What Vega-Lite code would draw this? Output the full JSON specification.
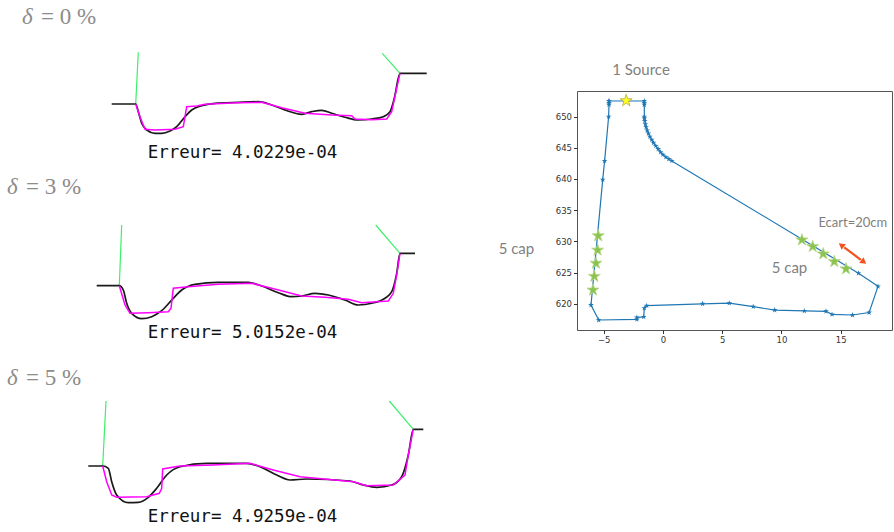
{
  "$schema": "https://vega.github.io/schema/vega-lite/v6.json",
  "padding": 0,
  "background": "white",
  "config": {
    "view": {"stroke": null},
    "font": "DejaVu Sans",
    "axis": {"grid": false, "domain": false, "tickSize": 3.5, "tickColor": "#333", "labelFontSize": 8.5, "labelColor": "#333", "labelFont": "DejaVu Sans", "labelPadding": 2}
  },
  "datasets": {
    "p0": [
      {"c": "mesure", "x": 111.7, "z": 73}, {"c": "mesure", "x": 135.7, "z": 73}, {"c": "mesure", "x": 138.3, "z": 65.3}, {"c": "mesure", "x": 141.7, "z": 53.7}, {"c": "mesure", "x": 146.7, "z": 47}, {"c": "mesure", "x": 155, "z": 43.7}, {"c": "mesure", "x": 161.7, "z": 43.7}, {"c": "mesure", "x": 170, "z": 46}, {"c": "mesure", "x": 176.7, "z": 50.3}, {"c": "mesure", "x": 185, "z": 60.3}, {"c": "mesure", "x": 191.7, "z": 67}, {"c": "mesure", "x": 201.7, "z": 71.3}, {"c": "mesure", "x": 215, "z": 73.7}, {"c": "mesure", "x": 238.3, "z": 74.7}, {"c": "mesure", "x": 258.3, "z": 75.3}, {"c": "mesure", "x": 271.7, "z": 72}, {"c": "mesure", "x": 285, "z": 67}, {"c": "mesure", "x": 301.7, "z": 62.7}, {"c": "mesure", "x": 311.7, "z": 65.3}, {"c": "mesure", "x": 321.7, "z": 66.7}, {"c": "mesure", "x": 331.7, "z": 63.7}, {"c": "mesure", "x": 345, "z": 59.7}, {"c": "mesure", "x": 358.3, "z": 57}, {"c": "mesure", "x": 371.7, "z": 58}, {"c": "mesure", "x": 383.3, "z": 60.3}, {"c": "mesure", "x": 390, "z": 65.3}, {"c": "mesure", "x": 394.3, "z": 78.7}, {"c": "mesure", "x": 400, "z": 103.7}, {"c": "mesure", "x": 426.7, "z": 103.7},
      {"c": "calcul", "x": 135.7, "z": 73}, {"c": "calcul", "x": 140, "z": 60.3}, {"c": "calcul", "x": 145, "z": 47.7}, {"c": "calcul", "x": 155, "z": 47}, {"c": "calcul", "x": 175, "z": 47.7}, {"c": "calcul", "x": 183.3, "z": 50.3}, {"c": "calcul", "x": 186.7, "z": 70.3}, {"c": "calcul", "x": 196.7, "z": 71}, {"c": "calcul", "x": 205, "z": 72.7}, {"c": "calcul", "x": 238.3, "z": 74.3}, {"c": "calcul", "x": 261.7, "z": 74.7}, {"c": "calcul", "x": 281.7, "z": 69.3}, {"c": "calcul", "x": 305, "z": 63.7}, {"c": "calcul", "x": 331.7, "z": 62}, {"c": "calcul", "x": 351.7, "z": 61.3}, {"c": "calcul", "x": 355, "z": 58}, {"c": "calcul", "x": 371.7, "z": 57.3}, {"c": "calcul", "x": 386.7, "z": 58}, {"c": "calcul", "x": 391.7, "z": 65.3}, {"c": "calcul", "x": 396.7, "z": 88.7}, {"c": "calcul", "x": 400, "z": 103.7},
      {"c": "vert_g", "x": 135.7, "z": 73}, {"c": "vert_g", "x": 138.3, "z": 124.7},
      {"c": "vert_d", "x": 400, "z": 103.7}, {"c": "vert_d", "x": 382.3, "z": 123.7}
    ],
    "p3": [
      {"c": "mesure", "x": 96.7, "z": 68.3}, {"c": "mesure", "x": 119.3, "z": 68.3}, {"c": "mesure", "x": 123.3, "z": 64}, {"c": "mesure", "x": 126.7, "z": 50.7}, {"c": "mesure", "x": 131.7, "z": 40.7}, {"c": "mesure", "x": 141.7, "z": 35.3}, {"c": "mesure", "x": 151.7, "z": 37.3}, {"c": "mesure", "x": 161.7, "z": 43.3}, {"c": "mesure", "x": 173.3, "z": 55.7}, {"c": "mesure", "x": 181.7, "z": 64}, {"c": "mesure", "x": 195, "z": 69.7}, {"c": "mesure", "x": 218.3, "z": 71.7}, {"c": "mesure", "x": 248.3, "z": 71.7}, {"c": "mesure", "x": 261.7, "z": 68}, {"c": "mesure", "x": 278.3, "z": 61.3}, {"c": "mesure", "x": 291.7, "z": 57.3}, {"c": "mesure", "x": 301.7, "z": 58}, {"c": "mesure", "x": 315, "z": 60.7}, {"c": "mesure", "x": 328.3, "z": 59}, {"c": "mesure", "x": 345, "z": 54}, {"c": "mesure", "x": 358.3, "z": 49}, {"c": "mesure", "x": 371.7, "z": 50.7}, {"c": "mesure", "x": 385, "z": 55.7}, {"c": "mesure", "x": 391.7, "z": 62.3}, {"c": "mesure", "x": 396.7, "z": 80.7}, {"c": "mesure", "x": 400, "z": 100.7}, {"c": "mesure", "x": 415, "z": 100.7},
      {"c": "calcul", "x": 119.3, "z": 68.3}, {"c": "calcul", "x": 125, "z": 49}, {"c": "calcul", "x": 130, "z": 40.7}, {"c": "calcul", "x": 148.3, "z": 41.3}, {"c": "calcul", "x": 168.3, "z": 42.3}, {"c": "calcul", "x": 171, "z": 45.7}, {"c": "calcul", "x": 173.3, "z": 65.7}, {"c": "calcul", "x": 188.3, "z": 67.3}, {"c": "calcul", "x": 218.3, "z": 69.7}, {"c": "calcul", "x": 251.7, "z": 70.7}, {"c": "calcul", "x": 271.7, "z": 65.7}, {"c": "calcul", "x": 301.7, "z": 58}, {"c": "calcul", "x": 325, "z": 56.7}, {"c": "calcul", "x": 348.3, "z": 54.7}, {"c": "calcul", "x": 361.7, "z": 51.3}, {"c": "calcul", "x": 388.3, "z": 53}, {"c": "calcul", "x": 393.3, "z": 60.7}, {"c": "calcul", "x": 396.7, "z": 79}, {"c": "calcul", "x": 400, "z": 100.7},
      {"c": "vert_g", "x": 119.3, "z": 68.3}, {"c": "vert_g", "x": 121.7, "z": 129},
      {"c": "vert_d", "x": 400, "z": 100.7}, {"c": "vert_d", "x": 375.7, "z": 129}
    ],
    "p5": [
      {"c": "mesure", "x": 88.3, "z": 65}, {"c": "mesure", "x": 102.7, "z": 65}, {"c": "mesure", "x": 108.3, "z": 62.7}, {"c": "mesure", "x": 111.7, "z": 49.3}, {"c": "mesure", "x": 116.7, "z": 36}, {"c": "mesure", "x": 128.3, "z": 28.3}, {"c": "mesure", "x": 138.3, "z": 28.7}, {"c": "mesure", "x": 148.3, "z": 33.7}, {"c": "mesure", "x": 156.7, "z": 42.7}, {"c": "mesure", "x": 166.7, "z": 56}, {"c": "mesure", "x": 180, "z": 64.3}, {"c": "mesure", "x": 206.7, "z": 67.7}, {"c": "mesure", "x": 246.7, "z": 67.7}, {"c": "mesure", "x": 260, "z": 64.3}, {"c": "mesure", "x": 276.7, "z": 56}, {"c": "mesure", "x": 290, "z": 51}, {"c": "mesure", "x": 306.7, "z": 52}, {"c": "mesure", "x": 350, "z": 50}, {"c": "mesure", "x": 363.3, "z": 46}, {"c": "mesure", "x": 376.7, "z": 43.7}, {"c": "mesure", "x": 391.7, "z": 46}, {"c": "mesure", "x": 401.7, "z": 54.3}, {"c": "mesure", "x": 408.3, "z": 76}, {"c": "mesure", "x": 413.3, "z": 101.7}, {"c": "mesure", "x": 423.3, "z": 101.7},
      {"c": "calcul", "x": 102.7, "z": 65}, {"c": "calcul", "x": 106.7, "z": 49.3}, {"c": "calcul", "x": 111.7, "z": 36}, {"c": "calcul", "x": 116.7, "z": 33.7}, {"c": "calcul", "x": 146.7, "z": 34.3}, {"c": "calcul", "x": 159.3, "z": 37.7}, {"c": "calcul", "x": 161.7, "z": 42.7}, {"c": "calcul", "x": 162.7, "z": 62}, {"c": "calcul", "x": 180, "z": 65}, {"c": "calcul", "x": 213.3, "z": 66}, {"c": "calcul", "x": 250, "z": 67.7}, {"c": "calcul", "x": 273.3, "z": 61}, {"c": "calcul", "x": 300, "z": 54.3}, {"c": "calcul", "x": 353.3, "z": 49.3}, {"c": "calcul", "x": 366.7, "z": 45.3}, {"c": "calcul", "x": 393.3, "z": 46}, {"c": "calcul", "x": 405, "z": 56}, {"c": "calcul", "x": 408.3, "z": 76}, {"c": "calcul", "x": 413.3, "z": 101.7},
      {"c": "vert_g", "x": 102.7, "z": 65}, {"c": "vert_g", "x": 106, "z": 130},
      {"c": "vert_d", "x": 413.3, "z": 101.7}, {"c": "vert_d", "x": 389.3, "z": 130}
    ],
    "contour": [
      {"x": -4.55, "y": 652.5}, {"x": -4.55, "y": 652.2}, {"x": -4.55, "y": 651.9}, {"x": -4.58, "y": 650.0}, {"x": -4.92, "y": 642.9}, {"x": -5.08, "y": 639.9}, {"x": -6.07, "y": 619.8}, {"x": -5.42, "y": 617.4}, {"x": -2.2, "y": 617.5}, {"x": -2.2, "y": 617.8}, {"x": -1.62, "y": 617.9}, {"x": -1.57, "y": 619.3}, {"x": -1.37, "y": 619.7}, {"x": 3.35, "y": 620.0}, {"x": 5.6, "y": 620.1}, {"x": 7.62, "y": 619.55}, {"x": 9.43, "y": 619.0}, {"x": 11.93, "y": 618.85}, {"x": 13.76, "y": 618.8}, {"x": 14.27, "y": 618.3}, {"x": 16.0, "y": 618.2}, {"x": 17.4, "y": 618.6}, {"x": 18.15, "y": 622.8}, {"x": 16.5, "y": 624.9}, {"x": 0.75, "y": 642.9}, {"x": 0.5, "y": 643.2}, {"x": 0.25, "y": 643.5}, {"x": 0.0, "y": 643.9}, {"x": -0.2, "y": 644.3}, {"x": -0.4, "y": 644.8}, {"x": -0.6, "y": 645.3}, {"x": -0.8, "y": 645.8}, {"x": -0.95, "y": 646.3}, {"x": -1.1, "y": 646.8}, {"x": -1.22, "y": 647.3}, {"x": -1.33, "y": 647.8}, {"x": -1.42, "y": 648.3}, {"x": -1.48, "y": 648.8}, {"x": -1.53, "y": 649.3}, {"x": -1.56, "y": 649.7}, {"x": -1.57, "y": 650.0}, {"x": -1.57, "y": 651.9}, {"x": -1.57, "y": 652.2}, {"x": -1.57, "y": 652.5}, {"x": -4.55, "y": 652.5}
    ],
    "capteurs": [
      {"x": -5.46, "y": 630.9}, {"x": -5.51, "y": 628.6}, {"x": -5.65, "y": 626.5}, {"x": -5.79, "y": 624.4}, {"x": -5.9, "y": 622.2},
      {"x": 11.73, "y": 630.24}, {"x": 12.64, "y": 629.17}, {"x": 13.53, "y": 628.0}, {"x": 14.46, "y": 626.76}, {"x": 15.45, "y": 625.6}
    ],
    "source": [{"x": -3.1, "y": 652.55}],
    "fleche": [{"x": 15.3, "y": 629.05}, {"x": 16.7, "y": 627.05}]
  },
  "spacing": 48,
  "hconcat": [
    {
      "spacing": 0,
      "bounds": "flush",
      "vconcat": [
        {
          "width": 450, "height": 177,
          "data": {"name": "p0"},
          "layer": [
            {"transform": [{"filter": "datum.c == 'vert_g' || datum.c == 'vert_d'"}], "mark": {"type": "line", "color": "#3cf06a", "strokeWidth": 1.2}, "encoding": {"x": {"field": "x", "type": "quantitative", "scale": {"domain": [0, 450], "nice": false, "zero": false}, "axis": null}, "y": {"field": "z", "type": "quantitative", "scale": {"domain": [0, 177], "nice": false, "zero": false}, "axis": null}, "detail": {"field": "c"}, "order": {"value": null}}},
            {"transform": [{"filter": "datum.c == 'mesure'"}], "mark": {"type": "line", "color": "#1a1a1a", "strokeWidth": 1.7, "interpolate": "monotone"}, "encoding": {"x": {"field": "x", "type": "quantitative", "scale": {"domain": [0, 450], "nice": false, "zero": false}, "axis": null}, "y": {"field": "z", "type": "quantitative", "scale": {"domain": [0, 177], "nice": false, "zero": false}, "axis": null}, "order": {"value": null}}},
            {"transform": [{"filter": "datum.c == 'calcul'"}], "mark": {"type": "line", "color": "#ff00ff", "strokeWidth": 1.5}, "encoding": {"x": {"field": "x", "type": "quantitative", "scale": {"domain": [0, 450], "nice": false, "zero": false}, "axis": null}, "y": {"field": "z", "type": "quantitative", "scale": {"domain": [0, 177], "nice": false, "zero": false}, "axis": null}, "order": {"value": null}}},
            {"data": {"values": [{"t": "δ"}]}, "mark": {"type": "text", "font": "Liberation Serif", "fontStyle": "italic", "fontSize": 23, "color": "#8c8c8c", "align": "left", "baseline": "middle"}, "encoding": {"text": {"field": "t"}, "x": {"datum": 22, "axis": null}, "y": {"datum": 160, "axis": null}}},
            {"data": {"values": [{"t": "= 0 %"}]}, "mark": {"type": "text", "font": "Liberation Serif", "fontSize": 23, "color": "#8c8c8c", "align": "left", "baseline": "middle"}, "encoding": {"text": {"field": "t"}, "x": {"datum": 41, "axis": null}, "y": {"datum": 160, "axis": null}}},
            {"data": {"values": [{"t": "Erreur= 4.0229e-04"}]}, "mark": {"type": "text", "font": "DejaVu Sans Mono", "fontSize": 17.5, "color": "#111", "align": "center", "baseline": "middle"}, "encoding": {"text": {"field": "t"}, "x": {"datum": 242.5, "axis": null}, "y": {"datum": 24, "axis": null}}}
          ]
        },
        {
          "width": 450, "height": 177,
          "data": {"name": "p3"},
          "layer": [
            {"transform": [{"filter": "datum.c == 'vert_g' || datum.c == 'vert_d'"}], "mark": {"type": "line", "color": "#3cf06a", "strokeWidth": 1.2}, "encoding": {"x": {"field": "x", "type": "quantitative", "scale": {"domain": [0, 450], "nice": false, "zero": false}, "axis": null}, "y": {"field": "z", "type": "quantitative", "scale": {"domain": [0, 177], "nice": false, "zero": false}, "axis": null}, "detail": {"field": "c"}, "order": {"value": null}}},
            {"transform": [{"filter": "datum.c == 'mesure'"}], "mark": {"type": "line", "color": "#1a1a1a", "strokeWidth": 1.7, "interpolate": "monotone"}, "encoding": {"x": {"field": "x", "type": "quantitative", "scale": {"domain": [0, 450], "nice": false, "zero": false}, "axis": null}, "y": {"field": "z", "type": "quantitative", "scale": {"domain": [0, 177], "nice": false, "zero": false}, "axis": null}, "order": {"value": null}}},
            {"transform": [{"filter": "datum.c == 'calcul'"}], "mark": {"type": "line", "color": "#ff00ff", "strokeWidth": 1.5}, "encoding": {"x": {"field": "x", "type": "quantitative", "scale": {"domain": [0, 450], "nice": false, "zero": false}, "axis": null}, "y": {"field": "z", "type": "quantitative", "scale": {"domain": [0, 177], "nice": false, "zero": false}, "axis": null}, "order": {"value": null}}},
            {"data": {"values": [{"t": "δ"}]}, "mark": {"type": "text", "font": "Liberation Serif", "fontStyle": "italic", "fontSize": 23, "color": "#8c8c8c", "align": "left", "baseline": "middle"}, "encoding": {"text": {"field": "t"}, "x": {"datum": 7, "axis": null}, "y": {"datum": 167.3, "axis": null}}},
            {"data": {"values": [{"t": "= 3 %"}]}, "mark": {"type": "text", "font": "Liberation Serif", "fontSize": 23, "color": "#8c8c8c", "align": "left", "baseline": "middle"}, "encoding": {"text": {"field": "t"}, "x": {"datum": 26, "axis": null}, "y": {"datum": 167.3, "axis": null}}},
            {"data": {"values": [{"t": "Erreur= 5.0152e-04"}]}, "mark": {"type": "text", "font": "DejaVu Sans Mono", "fontSize": 17.5, "color": "#111", "align": "center", "baseline": "middle"}, "encoding": {"text": {"field": "t"}, "x": {"datum": 242.5, "axis": null}, "y": {"datum": 20.7, "axis": null}}}
          ]
        },
        {
          "width": 450, "height": 177,
          "data": {"name": "p5"},
          "layer": [
            {"transform": [{"filter": "datum.c == 'vert_g' || datum.c == 'vert_d'"}], "mark": {"type": "line", "color": "#3cf06a", "strokeWidth": 1.2}, "encoding": {"x": {"field": "x", "type": "quantitative", "scale": {"domain": [0, 450], "nice": false, "zero": false}, "axis": null}, "y": {"field": "z", "type": "quantitative", "scale": {"domain": [0, 177], "nice": false, "zero": false}, "axis": null}, "detail": {"field": "c"}, "order": {"value": null}}},
            {"transform": [{"filter": "datum.c == 'mesure'"}], "mark": {"type": "line", "color": "#1a1a1a", "strokeWidth": 1.7, "interpolate": "monotone"}, "encoding": {"x": {"field": "x", "type": "quantitative", "scale": {"domain": [0, 450], "nice": false, "zero": false}, "axis": null}, "y": {"field": "z", "type": "quantitative", "scale": {"domain": [0, 177], "nice": false, "zero": false}, "axis": null}, "order": {"value": null}}},
            {"transform": [{"filter": "datum.c == 'calcul'"}], "mark": {"type": "line", "color": "#ff00ff", "strokeWidth": 1.5}, "encoding": {"x": {"field": "x", "type": "quantitative", "scale": {"domain": [0, 450], "nice": false, "zero": false}, "axis": null}, "y": {"field": "z", "type": "quantitative", "scale": {"domain": [0, 177], "nice": false, "zero": false}, "axis": null}, "order": {"value": null}}},
            {"data": {"values": [{"t": "δ"}]}, "mark": {"type": "text", "font": "Liberation Serif", "fontStyle": "italic", "fontSize": 23, "color": "#8c8c8c", "align": "left", "baseline": "middle"}, "encoding": {"text": {"field": "t"}, "x": {"datum": 7, "axis": null}, "y": {"datum": 153, "axis": null}}},
            {"data": {"values": [{"t": "= 5 %"}]}, "mark": {"type": "text", "font": "Liberation Serif", "fontSize": 23, "color": "#8c8c8c", "align": "left", "baseline": "middle"}, "encoding": {"text": {"field": "t"}, "x": {"datum": 26, "axis": null}, "y": {"datum": 153, "axis": null}}},
            {"data": {"values": [{"t": "Erreur= 4.9259e-04"}]}, "mark": {"type": "text", "font": "DejaVu Sans Mono", "fontSize": 17.5, "color": "#111", "align": "center", "baseline": "middle"}, "encoding": {"text": {"field": "t"}, "x": {"datum": 242.5, "axis": null}, "y": {"datum": 14.3, "axis": null}}}
          ]
        }
      ]
    },
    {
      "spacing": 0,
      "bounds": "flush",
      "vconcat": [
        {"width": 315, "height": 91, "data": {"values": [{"t": ""}]}, "mark": {"type": "text"}, "encoding": {"text": {"field": "t"}}},
        {
          "width": 315, "height": 239,
          "view": {"stroke": "#555555", "strokeWidth": 1},
          "layer": [
            {"data": {"name": "contour"}, "mark": {"type": "line", "color": "#1f77b4", "strokeWidth": 1.2}, "encoding": {
              "x": {"field": "x", "type": "quantitative", "scale": {"domain": [-7.25, 19.33], "nice": false, "zero": false}, "axis": {"values": [-5, 0, 5, 10, 15], "title": null}},
              "y": {"field": "y", "type": "quantitative", "scale": {"domain": [615.8, 654.1], "nice": false, "zero": false}, "axis": {"values": [620, 625, 630, 635, 640, 645, 650], "title": null}},
              "order": {"value": null}}},
            {"data": {"name": "contour"}, "mark": {"type": "point", "filled": true, "color": "#1f77b4", "opacity": 1, "size": 36, "shape": "M0,-1L0.2245,-0.309L0.9511,-0.309L0.3633,0.118L0.5878,0.809L0,0.382L-0.5878,0.809L-0.3633,0.118L-0.9511,-0.309L-0.2245,-0.309Z"}, "encoding": {
              "x": {"field": "x", "type": "quantitative", "scale": {"domain": [-7.25, 19.33], "nice": false, "zero": false}, "axis": {"values": [-5, 0, 5, 10, 15], "title": null}},
              "y": {"field": "y", "type": "quantitative", "scale": {"domain": [615.8, 654.1], "nice": false, "zero": false}, "axis": {"values": [620, 625, 630, 635, 640, 645, 650], "title": null}}}},
            {"data": {"name": "capteurs"}, "mark": {"type": "point", "filled": true, "fill": "#8cc34e", "stroke": "#b6d88a", "strokeWidth": 0.8, "opacity": 1, "size": 160, "shape": "M0,-1L0.2245,-0.309L0.9511,-0.309L0.3633,0.118L0.5878,0.809L0,0.382L-0.5878,0.809L-0.3633,0.118L-0.9511,-0.309L-0.2245,-0.309Z"}, "encoding": {
              "x": {"field": "x", "type": "quantitative", "scale": {"domain": [-7.25, 19.33], "nice": false, "zero": false}, "axis": {"values": [-5, 0, 5, 10, 15], "title": null}},
              "y": {"field": "y", "type": "quantitative", "scale": {"domain": [615.8, 654.1], "nice": false, "zero": false}, "axis": {"values": [620, 625, 630, 635, 640, 645, 650], "title": null}}}},
            {"data": {"name": "source"}, "mark": {"type": "point", "filled": true, "fill": "#ffff1a", "stroke": "#b3a94a", "strokeWidth": 0.8, "opacity": 1, "size": 160, "shape": "M0,-1L0.2245,-0.309L0.9511,-0.309L0.3633,0.118L0.5878,0.809L0,0.382L-0.5878,0.809L-0.3633,0.118L-0.9511,-0.309L-0.2245,-0.309Z"}, "encoding": {
              "x": {"field": "x", "type": "quantitative", "scale": {"domain": [-7.25, 19.33], "nice": false, "zero": false}, "axis": {"values": [-5, 0, 5, 10, 15], "title": null}},
              "y": {"field": "y", "type": "quantitative", "scale": {"domain": [615.8, 654.1], "nice": false, "zero": false}, "axis": {"values": [620, 625, 630, 635, 640, 645, 650], "title": null}}}},
            {"data": {"name": "fleche"}, "mark": {"type": "line", "color": "#f4511e", "strokeWidth": 2.2}, "encoding": {
              "x": {"field": "x", "type": "quantitative", "scale": {"domain": [-7.25, 19.33], "nice": false, "zero": false}, "axis": {"values": [-5, 0, 5, 10, 15], "title": null}},
              "y": {"field": "y", "type": "quantitative", "scale": {"domain": [615.8, 654.1], "nice": false, "zero": false}, "axis": {"values": [620, 625, 630, 635, 640, 645, 650], "title": null}},
              "order": {"value": null}}},
            {"data": {"values": [{"t": "a"}]}, "mark": {"type": "point", "shape": "triangle-up", "filled": true, "color": "#f4511e", "opacity": 1, "size": 50, "angle": 307}, "encoding": {
              "x": {"datum": 15.05, "scale": {"domain": [-7.25, 19.33], "nice": false, "zero": false}, "axis": {"values": [-5, 0, 5, 10, 15], "title": null}},
              "y": {"datum": 629.4, "scale": {"domain": [615.8, 654.1], "nice": false, "zero": false}, "axis": {"values": [620, 625, 630, 635, 640, 645, 650], "title": null}}}},
            {"data": {"values": [{"t": "b"}]}, "mark": {"type": "point", "shape": "triangle-up", "filled": true, "color": "#f4511e", "opacity": 1, "size": 50, "angle": 127}, "encoding": {
              "x": {"datum": 16.95, "scale": {"domain": [-7.25, 19.33], "nice": false, "zero": false}, "axis": {"values": [-5, 0, 5, 10, 15], "title": null}},
              "y": {"datum": 626.7, "scale": {"domain": [615.8, 654.1], "nice": false, "zero": false}, "axis": {"values": [620, 625, 630, 635, 640, 645, 650], "title": null}}}},
            {"data": {"values": [{"t": "1 Source"}]}, "mark": {"type": "text", "font": "Lato", "fontSize": 15, "color": "#7f7f7f", "align": "center", "baseline": "middle"}, "encoding": {"text": {"field": "t"},
              "x": {"datum": -1.85, "scale": {"domain": [-7.25, 19.33], "nice": false, "zero": false}, "axis": {"values": [-5, 0, 5, 10, 15], "title": null}},
              "y": {"datum": 657.5, "scale": {"domain": [615.8, 654.1], "nice": false, "zero": false}, "axis": {"values": [620, 625, 630, 635, 640, 645, 650], "title": null}}}},
            {"data": {"values": [{"t": "5 cap"}]}, "mark": {"type": "text", "font": "Lato", "fontSize": 15, "color": "#7f7f7f", "align": "center", "baseline": "middle"}, "encoding": {"text": {"field": "t"},
              "x": {"datum": -12.36, "scale": {"domain": [-7.25, 19.33], "nice": false, "zero": false}, "axis": {"values": [-5, 0, 5, 10, 15], "title": null}},
              "y": {"datum": 628.8, "scale": {"domain": [615.8, 654.1], "nice": false, "zero": false}, "axis": {"values": [620, 625, 630, 635, 640, 645, 650], "title": null}}}},
            {"data": {"values": [{"t": "5 cap"}]}, "mark": {"type": "text", "font": "Lato", "fontSize": 15, "color": "#7f7f7f", "align": "center", "baseline": "middle"}, "encoding": {"text": {"field": "t"},
              "x": {"datum": 10.68, "scale": {"domain": [-7.25, 19.33], "nice": false, "zero": false}, "axis": {"values": [-5, 0, 5, 10, 15], "title": null}},
              "y": {"datum": 625.75, "scale": {"domain": [615.8, 654.1], "nice": false, "zero": false}, "axis": {"values": [620, 625, 630, 635, 640, 645, 650], "title": null}}}},
            {"data": {"values": [{"t": "Ecart=20cm"}]}, "mark": {"type": "text", "font": "Lato", "fontSize": 13, "color": "#7f7f7f", "align": "center", "baseline": "middle"}, "encoding": {"text": {"field": "t"},
              "x": {"datum": 16.02, "scale": {"domain": [-7.25, 19.33], "nice": false, "zero": false}, "axis": {"values": [-5, 0, 5, 10, 15], "title": null}},
              "y": {"datum": 632.97, "scale": {"domain": [615.8, 654.1], "nice": false, "zero": false}, "axis": {"values": [620, 625, 630, 635, 640, 645, 650], "title": null}}}}
          ]
        }
      ]
    }
  ]
}
